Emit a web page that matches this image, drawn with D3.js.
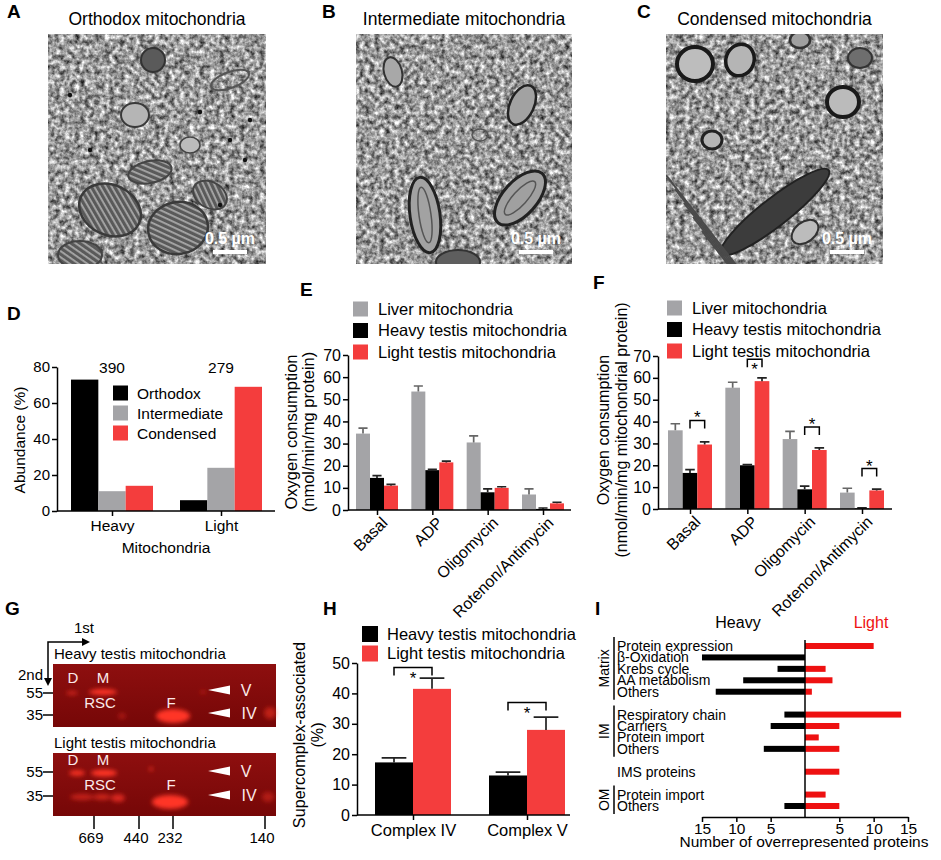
<!DOCTYPE html>
<html>
<head>
<meta charset="utf-8">
<script src="https://cdn.jsdelivr.net/npm/d3@7/dist/d3.min.js"></script>
<style>
  body { margin: 0; background: #fff; }
  svg text { font-family: "Liberation Sans", Arial, sans-serif; }
  .axis path, .axis line { stroke: #000; stroke-width: 1.5; }
</style>
</head>
<body>
<svg id="fig" width="941" height="860"></svg>
<script>
// ---------- data ----------
const emTitles = ["Orthodox mitochondria", "Intermediate mitochondria", "Condensed mitochondria"];
const scaleBarLabel = "0.5 µm";

const morphGroups = ["Heavy", "Light"];
const morphTypes = ["Orthodox", "Intermediate", "Condensed"];
const morphOrthodox = [73, 6];
const morphIntermediate = [11, 24];
const morphCondensed = [14, 69];
const morphCounts = [390, 279];
const morphTicks = [0, 20, 40, 60, 80];

const oxySeries = ["Liver mitochondria", "Heavy testis mitochondria", "Light testis mitochondria"];
const oxyConditions = ["Basal", "ADP", "Oligomycin", "Rotenon/Antimycin"];
const oxyTicks = [0, 10, 20, 30, 40, 50, 60, 70];

const eLiver = [34.5, 53.5, 30.5, 7];
const eLiverErr = [2.5, 2.5, 3, 2.5];
const eHeavy = [14.5, 18, 8, 0.5];
const eHeavyErr = [1, 0.4, 1.5, 0.4];
const eLight = [11, 21.5, 10, 3];
const eLightErr = [0.6, 0.6, 0.5, 0.5];

const fLiver = [36, 55.5, 32, 7.5];
const fLiverErr = [3, 2.5, 3.5, 2];
const fHeavy = [16.5, 20, 9, 0.3];
const fHeavyErr = [1.5, 0.3, 1.5, 0.2];
const fLight = [29.5, 58.5, 27, 8.5];
const fLightErr = [1.2, 1.5, 1, 0.6];
const fSigLevels = [40.5, 68.5, 37.5, 18.5];

const gelSamples = ["Heavy testis mitochondria", "Light testis mitochondria"];
const gelMassTicks = ["55", "35"];
const gelMarkers = ["669", "440", "232", "140"];

const scSeries = ["Heavy testis mitochondria", "Light testis mitochondria"];
const scComplexes = ["Complex IV", "Complex V"];
const scHeavy = [17.3, 13];
const scHeavyErr = [1.5, 1.1];
const scLight = [41.5, 28];
const scLightErr = [3.5, 4.2];
const scSigLevels = [48.5, 37];
const scTicks = [0, 10, 20, 30, 40, 50];

const protCategories = ["Protein expression", "β-Oxidation", "Krebs cycle", "AA metabolism", "Others",
  "Respiratory chain", "Carriers", "Protein import", "Others", "IMS proteins", "Protein import", "Others"];
const protCompartments = ["Matrix", "Matrix", "Matrix", "Matrix", "Matrix", "IM", "IM", "IM", "IM", "IMS", "OM", "OM"];
const protHeavy = [0, 15, 4, 9, 13, 3, 5, 0, 6, 0, 0, 3];
const protLight = [10, 0, 3, 4, 1, 14, 5, 2, 5, 5, 3, 5];
const protTicks = [-15, -10, -5, 5, 10, 15];

// ---------- drawing ----------
const svg = d3.select("#fig");
const defs = svg.append("defs");
const GRAY = "#a4a4a7", RED = "#f43d3d", PURE_RED = "#ee1111";

function panelLetter(letter, x, y) {
    svg.append("text").attr("x", x).attr("y", y)
        .attr("font-size", 19).attr("font-weight", "bold").text(letter);
}

// cristae stripes for the orthodox micrograph
const pat = defs.append("pattern").attr("id", "cristae").attr("patternUnits", "userSpaceOnUse")
    .attr("width", 5).attr("height", 5).attr("patternTransform", "rotate(35)");
pat.append("rect").attr("width", 5).attr("height", 5).attr("fill", "#5a5a5a");
pat.append("rect").attr("width", 5).attr("height", 1.8).attr("fill", "#a8a8a8");

function drawMicrograph(i, x0, y0, w, h, decorate) {
    const g = svg.append("g");
    const fid = "noise" + i;
    const f = defs.append("filter").attr("id", fid).attr("x", 0).attr("y", 0).attr("width", 1).attr("height", 1)
        .attr("color-interpolation-filters", "sRGB");
    f.append("feTurbulence").attr("type", "fractalNoise").attr("baseFrequency", 0.2)
        .attr("numOctaves", 3).attr("seed", 3 + i * 7).attr("result", "n");
    f.append("feColorMatrix").attr("in", "n").attr("type", "matrix")
        .attr("values", "1.25 0 0 0 -0.02  1.25 0 0 0 -0.02  1.25 0 0 0 -0.02  0 0 0 0 1").attr("result", "gr");
    f.append("feGaussianBlur").attr("in", "gr").attr("stdDeviation", 0.5);
    defs.append("clipPath").attr("id", "clip" + i)
        .append("rect").attr("x", x0).attr("y", y0).attr("width", w).attr("height", h);

    const img = g.append("g").attr("clip-path", `url(#clip${i})`);
    img.append("rect").attr("x", x0).attr("y", y0).attr("width", w).attr("height", h)
        .attr("fill", "#999").attr("filter", `url(#${fid})`);
    decorate(img);

    g.append("text").attr("x", x0 + w / 2).attr("y", y0 - 9).attr("text-anchor", "middle")
        .attr("font-size", 17.5).text(emTitles[i]);

    const bx = x0 + w - 36;
    g.append("text").attr("x", bx).attr("y", y0 + h - 20).attr("text-anchor", "middle")
        .attr("font-size", 16).attr("font-weight", "bold").style("fill", "#fff")
        .text(scaleBarLabel);
    g.append("line").attr("x1", bx - 17).attr("x2", bx + 17)
        .attr("y1", y0 + h - 12).attr("y2", y0 + h - 12)
        .attr("stroke", "#fff").attr("stroke-width", 4);
}

function ell(g, cx, cy, rx, ry, rot, fill, stroke, sw) {
    g.append("ellipse").attr("cx", cx).attr("cy", cy).attr("rx", rx).attr("ry", ry)
        .attr("transform", `rotate(${rot},${cx},${cy})`)
        .attr("fill", fill).attr("stroke", stroke).attr("stroke-width", sw);
}

drawMicrograph(0, 48, 34, 218, 230, img => {
    ell(img, 110, 210, 32, 25, 25, "url(#cristae)", "#3a3a3a", 2.5);
    ell(img, 178, 228, 30, 26, -10, "url(#cristae)", "#3a3a3a", 2.5);
    ell(img, 150, 172, 22, 11, -12, "url(#cristae)", "#444", 2);
    ell(img, 210, 195, 18, 13, 30, "url(#cristae)", "#444", 2);
    ell(img, 80, 255, 22, 14, 0, "url(#cristae)", "#444", 2);
    ell(img, 153, 60, 12, 12, 0, "#5a5a5a", "#333", 2);
    ell(img, 135, 115, 14, 12, 0, "#b5b5b5", "#3a3a3a", 2);
    ell(img, 190, 145, 10, 8, 0, "#bcbcbc", "#444", 1.5);
    ell(img, 230, 80, 20, 8, -20, "none", "#555", 2);
    [[230, 140], [245, 160], [200, 112], [90, 150], [220, 205], [250, 120], [70, 95]].forEach(p =>
        ell(img, p[0], p[1], 2.2, 2.2, 0, "#111", "none", 0));
});

drawMicrograph(1, 356, 34, 216, 230, img => {
    ell(img, 425, 215, 15, 38, -8, "#a2a2a2", "#222", 3);
    ell(img, 425, 215, 6, 28, -8, "none", "#555", 1.5);
    ell(img, 520, 198, 17, 33, 42, "#a0a0a0", "#222", 3);
    ell(img, 520, 198, 7, 22, 42, "none", "#555", 1.5);
    ell(img, 522, 105, 12, 21, 25, "#a2a2a2", "#222", 2.5);
    ell(img, 458, 262, 22, 12, 0, "#5e5e5e", "#333", 2);
    ell(img, 393, 72, 9, 15, -15, "#a8a8a8", "#333", 2);
    ell(img, 480, 135, 8, 6, 0, "none", "#555", 1.5);
});

drawMicrograph(2, 666, 34, 217, 230, img => {
    ell(img, 695, 64, 18, 17, 0, "#bdbdbd", "#1a1a1a", 4);
    ell(img, 740, 60, 14, 16, 20, "#b5b5b5", "#1a1a1a", 3.5);
    ell(img, 843, 102, 16, 15, 0, "#bbbbbb", "#1a1a1a", 4);
    ell(img, 712, 140, 10, 9, 0, "#b5b5b5", "#222", 3);
    ell(img, 800, 40, 10, 8, 0, "#a0a0a0", "#333", 2.5);
    ell(img, 860, 58, 12, 10, 0, "#6e6e6e", "#333", 2);
    ell(img, 775, 212, 68, 14, -38, "#3c3c3c", "#222", 2);
    ell(img, 805, 232, 15, 10, -38, "#bcbcbc", "#333", 2);
    [0, 1, 2, 3, 4].forEach(k =>
        img.append("line").attr("x1", 666 + k * 9).attr("y1", 175 + k * 14)
            .attr("x2", 740 + k * 9).attr("y2", 270 + k * 14)
            .attr("stroke", "#4a4a4a").attr("stroke-width", 2));
});

panelLetter("A", 7, 18);
panelLetter("B", 322, 18);
panelLetter("C", 637, 18);

// ---------- grouped bar panels ----------
function drawBarPanel(c) {
    const g = svg.append("g");
    const y = d3.scaleLinear().domain(c.yDomain).range(c.yRange);
    const x = d3.scalePoint().domain(c.categories).range(c.centers);
    const sub = d3.scaleBand().domain(c.series).range([-c.groupWidth / 2, c.groupWidth / 2]);
    const bw = sub.bandwidth();

    const cells = [];
    c.series.forEach((s, si) => c.categories.forEach((cat, ci) => cells.push({
        s, cat, v: c.values[si][ci], e: c.errors ? c.errors[si][ci] : 0, color: c.colors[si]
    })));
    const cx = d => x(d.cat) + sub(d.s) + bw / 2;

    g.selectAll("rect.bar").data(cells).join("rect")
        .attr("class", "bar")
        .attr("x", d => x(d.cat) + sub(d.s))
        .attr("y", d => y(d.v))
        .attr("width", bw)
        .attr("height", d => y(0) - y(d.v))
        .attr("fill", d => d.color);

    const cap = bw * 0.65;
    g.selectAll("path.err").data(cells.filter(d => d.e > 0)).join("path")
        .attr("class", "err")
        .attr("d", d => `M${cx(d)},${y(d.v)}V${y(d.v + d.e)}M${cx(d) - cap / 2},${y(d.v + d.e)}H${cx(d) + cap / 2}`)
        .attr("fill", "none")
        .attr("stroke", d => d.color === GRAY ? "#666" : "#222")
        .attr("stroke-width", 1.7);

    g.append("g").attr("class", "axis")
        .attr("transform", `translate(${c.axisX[0]},0)`)
        .call(d3.axisLeft(y).tickValues(c.yTicks).tickSize(5).tickSizeOuter(0).tickPadding(2))
        .selectAll("text").attr("font-size", c.tickFont);

    const xa = g.append("g").attr("class", "axis")
        .attr("transform", `translate(0,${y(0)})`)
        .call(d3.axisBottom(x).tickSize(5).tickSizeOuter(0).tickPadding(4));
    xa.select(".domain").attr("d", `M${c.axisX[0]},0H${c.axisX[1]}`);
    xa.selectAll("text").attr("font-size", c.catFont);
    if (c.rotateLabels) {
        xa.selectAll("text").attr("text-anchor", "end")
            .attr("x", -2).attr("y", 12).attr("dy", "0.35em")
            .attr("transform", "rotate(-45)");
    }

    // legend
    const lg = g.append("g").attr("transform", `translate(${c.legend.x},${c.legend.y})`);
    const li = lg.selectAll("g").data(c.series).join("g")
        .attr("transform", (d, i) => `translate(0,${i * c.legend.dy})`);
    li.append("rect").attr("x", 0).attr("y", -c.legend.box / 2)
        .attr("width", c.legend.box).attr("height", c.legend.box)
        .attr("fill", (d, i) => c.colors[i]);
    li.append("text").attr("x", c.legend.box + c.legend.gap).attr("dy", "0.36em")
        .attr("font-size", c.legend.font).text(d => d);

    // y label
    const yl = g.append("text")
        .attr("transform", `translate(${c.ylabel.x},${c.ylabel.y}) rotate(-90)`)
        .attr("text-anchor", "middle").attr("font-size", c.ylabel.font);
    c.ylabel.lines.forEach((t, i) => yl.append("tspan").attr("x", 0)
        .attr("dy", i ? c.ylabel.lead : 0).text(t));

    // significance brackets
    if (c.sig) {
        const [a, b] = c.sig.pair;
        c.categories.forEach((cat, ci) => {
            const lvl = c.sig.levels[ci];
            const x1 = x(cat) + sub(c.series[a]) + bw / 2;
            const x2 = x(cat) + sub(c.series[b]) + bw / 2;
            const yy = y(lvl);
            g.append("path").attr("d", `M${x1},${yy + 8}V${yy}H${x2}V${yy + 8}`)
                .attr("fill", "none").attr("stroke", "#000").attr("stroke-width", 1.5);
            const inside = c.sig.inside || lvl + 5 > c.yDomain[1];
            g.append("text").attr("x", (x1 + x2) / 2).attr("y", inside ? yy + 16 : yy + 3)
                .attr("text-anchor", "middle").attr("font-size", 17).text("*");
        });
    }
    return { g, x, y };
}

// D
const pd = drawBarPanel({
    categories: morphGroups, series: morphTypes,
    values: [morphOrthodox, morphIntermediate, morphCondensed],
    colors: ["#000", GRAY, RED],
    yDomain: [0, 80], yRange: [511, 367], yTicks: morphTicks,
    centers: [112, 221], groupWidth: 82, axisX: [57, 275],
    tickFont: 15, catFont: 15.5,
    legend: { x: 113, y: 393, dy: 20, box: 15, gap: 9, font: 15.5 },
    ylabel: { x: 25, y: 440, font: 15.5, lines: ["Abundance (%)"], lead: 0 }
});
pd.g.selectAll("text.count").data(morphGroups).join("text")
    .attr("class", "count")
    .attr("x", k => pd.x(k)).attr("y", pd.y(80) + 5.5)
    .attr("text-anchor", "middle").attr("font-size", 15.5)
    .text((k, i) => morphCounts[i]);
pd.g.append("text").attr("x", 166).attr("y", 553).attr("text-anchor", "middle")
    .attr("font-size", 15.5).text("Mitochondria");
panelLetter("D", 7, 320);

// E
drawBarPanel({
    categories: oxyConditions, series: oxySeries,
    values: [eLiver, eHeavy, eLight], errors: [eLiverErr, eHeavyErr, eLightErr],
    colors: [GRAY, "#000", RED],
    yDomain: [0, 70], yRange: [510, 355], yTicks: oxyTicks,
    centers: [377, 543], groupWidth: 42, axisX: [348, 571],
    tickFont: 16, catFont: 16, rotateLabels: true,
    legend: { x: 353, y: 309, dy: 21.5, box: 15, gap: 10, font: 16.5 },
    ylabel: { x: 297, y: 432, font: 16.5, lines: ["Oxygen consumption", "(nmol/min/mg protein)"], lead: 17 }
});
panelLetter("E", 300, 296);

// F
drawBarPanel({
    categories: oxyConditions, series: oxySeries,
    values: [fLiver, fHeavy, fLight], errors: [fLiverErr, fHeavyErr, fLightErr],
    colors: [GRAY, "#000", RED],
    yDomain: [0, 70], yRange: [509, 356], yTicks: oxyTicks,
    centers: [690, 862], groupWidth: 44, axisX: [658, 892],
    tickFont: 16, catFont: 16, rotateLabels: true,
    legend: { x: 667, y: 308, dy: 21.5, box: 15, gap: 10, font: 16.5 },
    ylabel: { x: 609, y: 430, font: 16, lines: ["Oxygen consumption", "(nmol/min/mg mitochondrial protein)"], lead: 18 },
    sig: { pair: [1, 2], levels: fSigLevels, inside: false }
});
panelLetter("F", 593, 289);

// H
drawBarPanel({
    categories: scComplexes, series: scSeries,
    values: [scHeavy, scLight], errors: [scHeavyErr, scLightErr],
    colors: ["#000", RED],
    yDomain: [0, 50], yRange: [815, 663], yTicks: scTicks,
    centers: [413, 527], groupWidth: 76, axisX: [357, 570],
    tickFont: 16, catFont: 16.5,
    legend: { x: 362, y: 634, dy: 19.5, box: 16, gap: 9, font: 16.5 },
    ylabel: { x: 305, y: 735, font: 16.2, lines: ["Supercomplex-associated", "(%)"], lead: 18 },
    sig: { pair: [0, 1], levels: scSigLevels, inside: true }
});
panelLetter("H", 323, 615);

// ---------- G: 2D gels ----------
function drawGel() {
    const g = svg.append("g");
    const grad = defs.append("linearGradient").attr("id", "gelGrad")
        .attr("x1", 0).attr("y1", 0).attr("x2", 0).attr("y2", 1);
    grad.append("stop").attr("offset", "0%").attr("stop-color", "#8e0f0f");
    grad.append("stop").attr("offset", "100%").attr("stop-color", "#760707");
    const blur = defs.append("filter").attr("id", "gelBlur")
        .attr("x", "-50%").attr("y", "-50%").attr("width", "200%").attr("height", "200%");
    blur.append("feGaussianBlur").attr("stdDeviation", 2.3);

    const gx0 = 53, gx1 = 276, gh = 63;
    const gels = [
        { top: 664, y55: 29, y35: 51, yDM: 14, yRF: 39, yV: 26, yIV: 49,
          spots: [[72, 29, 6, 2.2, 0.55], [103, 28, 14, 3, 1], [122, 52, 4, 3, 0.35], [173, 52, 17, 7, 1],
                  [203, 28, 3, 2, 0.35], [270, 49, 6, 6, 0.5]] },
        { top: 753, y55: 19, y35: 43, yDM: 7, yRF: 32, yV: 18, yIV: 42,
          spots: [[77, 20, 8, 3, 0.9], [104, 20, 13, 3.5, 1], [82, 44, 12, 3, 0.55], [102, 44, 9, 3, 0.6],
                  [118, 45, 7, 4, 0.7], [151, 16, 2, 2, 0.8], [170, 49, 18, 7, 1], [268, 44, 6, 5, 0.4]] }
    ];

    gels.forEach((gl, i) => {
        const top = gl.top;
        g.append("text").attr("x", 54).attr("y", top - 5).attr("font-size", 15).text(gelSamples[i]);
        g.append("rect").attr("x", gx0).attr("y", top).attr("width", gx1 - gx0).attr("height", gh)
            .attr("fill", "url(#gelGrad)");
        g.append("g").attr("filter", "url(#gelBlur)")
            .selectAll("ellipse").data(gl.spots).join("ellipse")
            .attr("cx", d => d[0]).attr("cy", d => top + d[1])
            .attr("rx", d => d[2]).attr("ry", d => d[3])
            .attr("fill", "#ff3526").attr("opacity", d => d[4]);

        const lab = (t, x, yy, size) => g.append("text").attr("x", x).attr("y", top + yy)
            .attr("dy", "0.36em").attr("text-anchor", "middle").attr("font-size", size)
            .style("fill", "#fbe9e9").text(t);
        lab("D", 73, gl.yDM, 15); lab("M", 103, gl.yDM, 15);
        lab("RSC", 100, gl.yRF, 15); lab("F", 171, gl.yRF, 15);
        lab("V", 246, gl.yV, 16); lab("IV", 249, gl.yIV, 16);
        [gl.yV, gl.yIV].forEach(yy => g.append("path")
            .attr("d", `M208,${top + yy}L230,${top + yy - 4.5}L230,${top + yy + 4.5}Z`)
            .attr("fill", "#fff"));

        [gl.y55, gl.y35].forEach((yy, k) => {
            g.append("line").attr("x1", 43).attr("x2", gx0).attr("y1", top + yy).attr("y2", top + yy)
                .attr("stroke", "#000").attr("stroke-width", 1.5);
            g.append("text").attr("x", 43).attr("y", top + yy).attr("dy", "0.36em")
                .attr("text-anchor", "end").attr("font-size", 15).text(gelMassTicks[k]);
        });
    });

    const markerX = [94, 139, 173, 265];
    gelMarkers.forEach((m, k) => {
        g.append("line").attr("x1", markerX[k]).attr("x2", markerX[k]).attr("y1", 816).attr("y2", 829)
            .attr("stroke", "#000").attr("stroke-width", 1.5);
        g.append("text").attr("x", markerX[k] - 3).attr("y", 843).attr("text-anchor", "middle")
            .attr("font-size", 15).text(m);
    });

    // direction arrows
    g.append("path").attr("d", "M48,680V642H84").attr("fill", "none").attr("stroke", "#000").attr("stroke-width", 1.5);
    g.append("path").attr("d", "M90,642L82,638L82,646Z").attr("fill", "#000");
    g.append("path").attr("d", "M48,686L44,678L52,678Z").attr("fill", "#000");
    g.append("text").attr("x", 84).attr("y", 633).attr("text-anchor", "middle").attr("font-size", 15).text("1st");
    g.append("text").attr("x", 43).attr("y", 680).attr("text-anchor", "end").attr("font-size", 15).text("2nd");
}
drawGel();
panelLetter("G", 5, 615);

// ---------- I: overrepresented proteins ----------
function drawProteins() {
    const g = svg.append("g");
    const x = d3.scaleLinear().domain([-15, 15]).range([702, 908]);
    let slot = -1;
    const rows = protCategories.map((name, i) => {
        if (i > 0 && protCompartments[i] !== protCompartments[i - 1]) slot += 1;
        slot += 1;
        return { name, comp: protCompartments[i], heavy: protHeavy[i], light: protLight[i], slot };
    });
    const y = d3.scaleLinear().domain([0, slot]).range([646, 806]);
    const bh = 6;

    g.selectAll("rect.heavy").data(rows.filter(r => r.heavy > 0)).join("rect")
        .attr("class", "heavy")
        .attr("x", r => x(-r.heavy)).attr("y", r => y(r.slot) - bh / 2)
        .attr("width", r => x(0) - x(-r.heavy)).attr("height", bh)
        .attr("fill", "#000");
    g.selectAll("rect.light").data(rows.filter(r => r.light > 0)).join("rect")
        .attr("class", "light")
        .attr("x", x(0)).attr("y", r => y(r.slot) - bh / 2)
        .attr("width", r => x(r.light) - x(0)).attr("height", bh)
        .attr("fill", PURE_RED);

    g.append("line").attr("x1", x(0)).attr("x2", x(0)).attr("y1", 640).attr("y2", 817)
        .attr("stroke", "#000").attr("stroke-width", 1.5);

    g.append("g").attr("class", "axis").attr("transform", "translate(0,817)")
        .call(d3.axisBottom(x).tickValues(protTicks).tickFormat(v => Math.abs(v))
            .tickSize(5).tickSizeOuter(0).tickPadding(1))
        .selectAll("text").attr("font-size", 15.5);

    g.selectAll("text.row").data(rows).join("text")
        .attr("class", "row")
        .attr("x", 617).attr("y", r => y(r.slot)).attr("dy", "0.36em")
        .attr("font-size", 14).text(r => r.name);

    d3.groups(rows, r => r.comp).filter(([k]) => k !== "IMS").forEach(([k, rs]) => {
        const y1 = y(rs[0].slot) - 9, y2 = y(rs[rs.length - 1].slot) + 8;
        g.append("line").attr("x1", 614).attr("x2", 614).attr("y1", y1).attr("y2", y2)
            .attr("stroke", "#000").attr("stroke-width", 1.5);
        g.append("text").attr("transform", `translate(609,${(y1 + y2) / 2}) rotate(-90)`)
            .attr("text-anchor", "middle").attr("font-size", 14).text(k);
    });

    g.append("text").attr("x", 738).attr("y", 628).attr("text-anchor", "middle")
        .attr("font-size", 16).text("Heavy");
    g.append("text").attr("x", 871).attr("y", 628).attr("text-anchor", "middle")
        .attr("font-size", 16).style("fill", PURE_RED).text("Light");
    g.append("text").attr("x", 804).attr("y", 847).attr("text-anchor", "middle")
        .attr("font-size", 15.5).text("Number of overrepresented proteins");
}
drawProteins();
panelLetter("I", 595, 615);
</script>
</body>
</html>
